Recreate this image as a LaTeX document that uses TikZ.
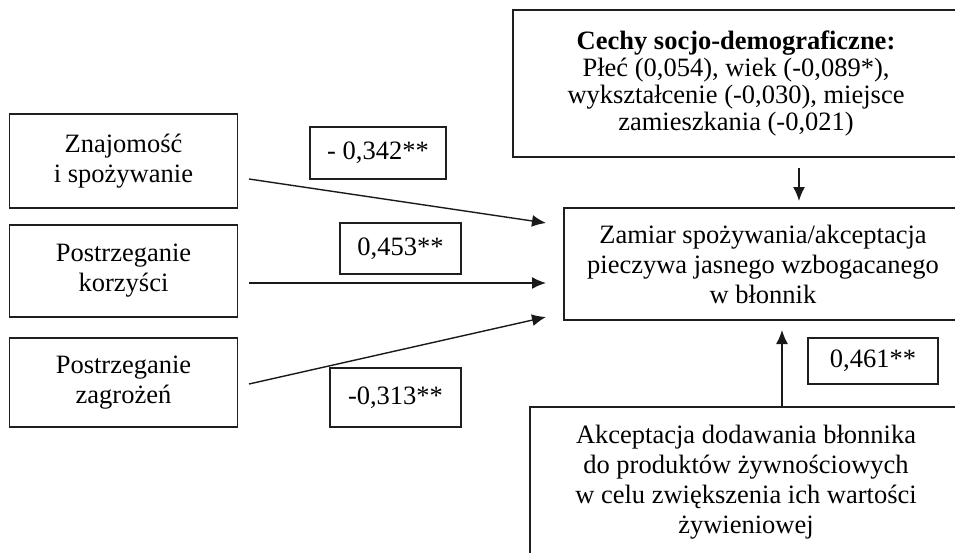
\documentclass[tikz,border=0pt]{standalone}
\usepackage{fontspec}
\setmainfont{Liberation Serif}
\usetikzlibrary{arrows.meta}
\begin{document}
\begin{tikzpicture}[x=1pt,y=-1pt,
  box/.style={draw=black!88, line width=1.3pt, align=center, inner sep=0pt,
    font=\fontsize{26.5}{30}\selectfont},
  lbl/.style={box},
  arr/.style={line width=1.4pt, draw=black!90, -{Latex[length=14pt,width=12pt]}}]
\useasboundingbox (0,0) rectangle (955,552);
\clip (0,0) rectangle (955,552);
% left boxes
\node[box, minimum width=228pt, minimum height=94pt] (k1) at (123.5,161) {Znajomość\\i spożywanie};
\node[box, minimum width=228pt, minimum height=92pt] (k2) at (123.5,271) {Postrzeganie\\korzyści};
\node[box, minimum width=228pt, minimum height=89pt] (k3) at (123.5,382.5) {Postrzeganie\\zagrożeń};
% right boxes (extend past edge)
\node[box, minimum width=446pt, minimum height=147pt, font=\fontsize{26.5}{27.3}\selectfont] (soc) at (736,83.5)
  {\textbf{Cechy socjo-demograficzne:}\\Płeć (0,054), wiek (-0,089*),\\wykształcenie (-0,030), miejsce\\zamieszkania (-0,021)};
\node[box, minimum width=398pt, minimum height=112pt] (zam) at (763,264)
  {Zamiar spożywania/akceptacja\\pieczywa jasnego wzbogacanego\\w błonnik};
\node[box, minimum width=432pt, minimum height=150pt] (akc) at (746,482)
  {Akceptacja dodawania błonnika\\do produktów żywnościowych\\w celu zwiększenia ich wartości\\żywieniowej};
% coefficient labels
\node[lbl, minimum width=136pt, minimum height=52pt] (c1) at (378,153) {- 0,342**};
\node[lbl, minimum width=121pt, minimum height=51pt] (c2) at (400.5,248.5) {0,453**};
\node[lbl, minimum width=131pt, minimum height=59pt] (c3) at (395.5,397.5) {-0,313**};
\node[lbl, minimum width=130pt, minimum height=46pt] (c4) at (873,361) {0,461**};
% arrow end points
\coordinate (s1) at (249,179);
\coordinate (e1) at (546,223);
\coordinate (s2) at (249,283);
\coordinate (e2) at (546,283);
\coordinate (s3) at (249,384);
\coordinate (e3) at (546,317);
\coordinate (d1) at (799,168);
\coordinate (d2) at (799,201);
\coordinate (u2) at (782,330);
\draw[arr] (s1) -- (e1);
\draw[arr] (s2) -- (e2);
\draw[arr] (s3) -- (e3);
\draw[arr] (d1) -- (d2);
\draw[arr] (akc.north -| u2) -- (u2);
\end{tikzpicture}
\end{document}
